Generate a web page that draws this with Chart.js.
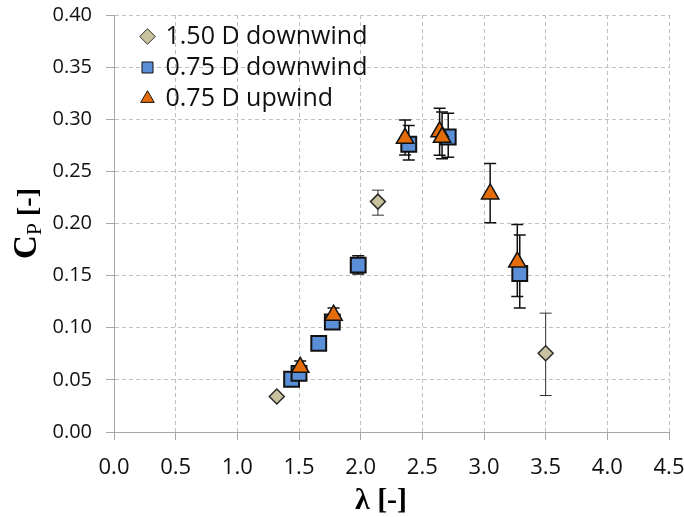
<!DOCTYPE html>
<html>
<head>
<meta charset="utf-8">
<script src="https://cdn.jsdelivr.net/npm/chart.js@4"></script>
<style>
html,body{margin:0;padding:0;background:#fff;}
#wrap{width:684px;height:517px;position:relative;}
</style>
</head>
<body>
<div id="wrap"><canvas id="c" width="684" height="517"></canvas></div>
<script>
// ---- data ----
const seriesNames = ['1.50 D downwind', '0.75 D downwind', '0.75 D upwind'];

const d150dw_x  = [1.32, 2.14, 3.50];
const d150dw_y  = [0.034, 0.221, 0.0755];
const d150dw_lo = [null, 0.208, 0.035];
const d150dw_hi = [null, 0.232, 0.114];

const d075dw_x  = [1.44, 1.50, 1.66, 1.77, 1.98, 2.39, 2.71, 3.29];
const d075dw_y  = [0.0506, 0.0563, 0.085, 0.1055, 0.160, 0.276, 0.283, 0.152];
const d075dw_lo = [null, null, null, null, 0.1516, 0.261, 0.2635, 0.119];
const d075dw_hi = [null, null, null, null, 0.169, 0.294, 0.3057, 0.189];

const d075uw_x  = [1.51, 1.78, 2.36, 2.64, 2.66, 3.05, 3.27];
const d075uw_y  = [0.062, 0.112, 0.2817, 0.288, 0.2827, 0.2283, 0.163];
const d075uw_lo = [0.056, 0.106, 0.2657, 0.2655, 0.262, 0.2008, 0.130];
const d075uw_hi = [0.068, 0.119, 0.2993, 0.3105, 0.307, 0.2576, 0.199];

const xTickValues = [0.0, 0.5, 1.0, 1.5, 2.0, 2.5, 3.0, 3.5, 4.0, 4.5];
const yTickValues = [0.00, 0.05, 0.10, 0.15, 0.20, 0.25, 0.30, 0.35, 0.40];
const xTitle = 'λ [-]';
const yTitleMain = 'C', yTitleSub = 'P', yTitleRest = ' [-]';

function pts(xs, ys, lo, hi) {
  return xs.map((x, i) => ({x: x, y: ys[i], lo: lo[i], hi: hi[i]}));
}

const errorBars = {
  id: 'errorBars',
  beforeDatasetsDraw(chart) {
    const ctx = chart.ctx;
    const xs = chart.scales.x, ys = chart.scales.y;
    chart.data.datasets.forEach((ds, di) => {
      const meta = chart.getDatasetMeta(di);
      if (meta.hidden) return;
      ctx.save();
      ctx.strokeStyle = ds.errColor;
      ctx.lineWidth = ds.errWidth;
      ds.data.forEach(p => {
        if (p.lo == null || p.hi == null) return;
        const px = xs.getPixelForValue(p.x);
        const y1 = ys.getPixelForValue(p.lo), y2 = ys.getPixelForValue(p.hi);
        const cw = 6;
        ctx.beginPath();
        ctx.moveTo(px, y1); ctx.lineTo(px, y2);
        ctx.moveTo(px - cw, y1); ctx.lineTo(px + cw, y1);
        ctx.moveTo(px - cw, y2); ctx.lineTo(px + cw, y2);
        ctx.stroke();
      });
      ctx.restore();
    });
  }
};

const axisTitles = {
  id: 'axisTitles',
  afterDraw(chart) {
    const ctx = chart.ctx, ca = chart.chartArea;
    ctx.save();
    ctx.fillStyle = '#000';
    ctx.textBaseline = 'alphabetic';
    // x title
    ctx.font = 'bold 30px "Liberation Serif"';
    ctx.textAlign = 'center';
    ctx.fillText(xTitle, 381, 509);
    // y title (rotated, with subscript)
    const fMain = 'bold 33px "Liberation Serif"';
    const fSub = '22px "Liberation Serif"';
    const fRest = 'bold 28px "Liberation Serif"';
    ctx.font = fMain; const wM = ctx.measureText(yTitleMain).width;
    ctx.font = fSub; const wS = ctx.measureText(yTitleSub).width;
    ctx.font = fRest; const wR = ctx.measureText(yTitleRest).width;
    const total = wM + wS + wR;
    ctx.translate(36, (ca.top + ca.bottom) / 2);
    ctx.rotate(-Math.PI / 2);
    ctx.textAlign = 'left';
    let x = -total / 2;
    ctx.font = fMain; ctx.fillText(yTitleMain, x, 0); x += wM;
    ctx.font = fSub; ctx.fillText(yTitleSub, x, 5); x += wS;
    ctx.font = fRest; ctx.fillText(yTitleRest, x, 0);
    ctx.restore();
  }
};

const legendShift = {
  id: 'legendShift',
  afterLayout(chart) {
    const lg = chart.legend;
    if (!lg) return;
    lg.left += 22;
    lg.top += 18;
  }
};

const gridCommon = {
  color: '#c0c0c0',
  lineWidth: 1,
  drawTicks: true,
  tickLength: 8,
  tickColor: '#a6a6a6',
  tickBorderDash: []
};

new Chart(document.getElementById('c'), {
  type: 'scatter',
  data: {
    datasets: [
      {
        label: seriesNames[0],
        data: pts(d150dw_x, d150dw_y, d150dw_lo, d150dw_hi),
        pointStyle: 'rectRot',
        pointRadius: 7.5,
        pointHoverRadius: 7.5,
        backgroundColor: '#c8c29e',
        borderColor: '#2b2b2b',
        pointBorderWidth: 1.5,
        errColor: '#333',
        errWidth: 1,
        order: 2
      },
      {
        label: seriesNames[1],
        data: pts(d075dw_x, d075dw_y, d075dw_lo, d075dw_hi),
        pointStyle: 'rect',
        pointRadius: 10.5,
        pointHoverRadius: 10.5,
        backgroundColor: '#5a8fd8',
        borderColor: '#111',
        pointBorderWidth: 2,
        errColor: '#111',
        errWidth: 1.5,
        order: 1
      },
      {
        label: seriesNames[2],
        data: pts(d075uw_x, d075uw_y, d075uw_lo, d075uw_hi),
        pointStyle: 'triangle',
        pointRadius: 10,
        pointHoverRadius: 10,
        backgroundColor: '#e46c0a',
        borderColor: '#111',
        pointBorderWidth: 1.5,
        errColor: '#111',
        errWidth: 1.5,
        order: 0
      }
    ]
  },
  options: {
    responsive: false,
    animation: false,
    events: [],
    layout: {padding: {left: 0, right: 15, top: 15, bottom: 0}},
    plugins: {
      tooltip: {enabled: false},
      title: {display: false},
      legend: {
        position: 'chartArea',
        align: 'start',
        reverse: true,
        labels: {
          usePointStyle: true,
          boxHeight: 11,
          boxWidth: 11,
          padding: 6,
          color: '#111',
          font: {family: '"Open Sans"', size: 25},
          generateLabels(chart) {
            const items = Chart.defaults.plugins.legend.labels.generateLabels(chart);
            items.forEach(it => { it.lineWidth = 1; });
            return items;
          }
        }
      }
    },
    scales: {
      x: {
        type: 'linear',
        min: xTickValues[0],
        max: xTickValues[xTickValues.length - 1],
        afterBuildTicks(scale) { scale.ticks = xTickValues.map(v => ({value: v})); },
        afterFit(scale) { scale.height = 85; scale.paddingRight = 0; scale.paddingLeft = 0; },
        ticks: {
          color: '#111',
          font: {family: '"Open Sans"', size: 22},
          padding: 15,
          maxRotation: 0,
          callback: v => Number(v).toFixed(1)
        },
        grid: gridCommon,
        border: {display: true, color: '#a6a6a6', width: 1, dash: [4, 3]}
      },
      y: {
        type: 'linear',
        min: yTickValues[0],
        max: yTickValues[yTickValues.length - 1],
        afterBuildTicks(scale) { scale.ticks = yTickValues.map(v => ({value: v})); },
        afterFit(scale) { scale.width = 114; scale.paddingTop = 0; scale.paddingBottom = 0; },
        ticks: {
          color: '#111',
          font: {family: '"Open Sans"', size: 20},
          padding: 14,
          callback: v => Number(v).toFixed(2)
        },
        grid: gridCommon,
        border: {display: true, color: '#a6a6a6', width: 1, dash: [4, 3]}
      }
    }
  },
  plugins: [errorBars, axisTitles, legendShift]
});
</script>
</body>
</html>
